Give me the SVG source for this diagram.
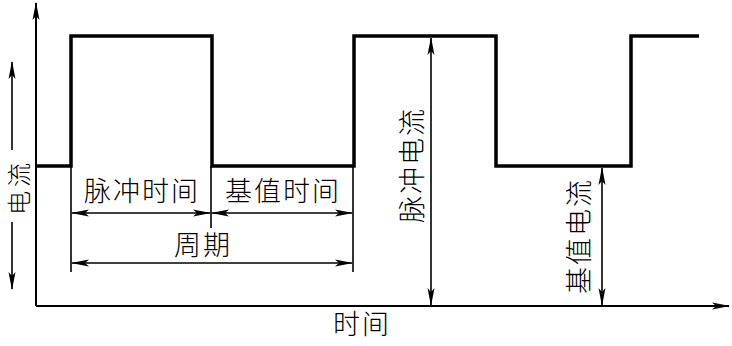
<svg xmlns="http://www.w3.org/2000/svg" width="732" height="346" viewBox="0 0 732 346">
<style>
.wave{fill:none;stroke:#000;stroke-width:3.5;stroke-linejoin:miter}
.axis{fill:none;stroke:#000;stroke-width:2}
.thin{fill:none;stroke:#000;stroke-width:1.6}
.lbl{font-family:"Noto Sans CJK SC","Noto Sans",sans-serif;font-size:27px;letter-spacing:2px;fill:#000;text-anchor:middle;font-weight:300}
.vlbl{dominant-baseline:central}
</style>
<defs>
<marker id="ah" markerUnits="userSpaceOnUse" markerWidth="18" markerHeight="10" viewBox="0 0 18 10" refX="17" refY="5" orient="auto-start-reverse">
<path d="M0,1.5 L18,5 L0,8.5 L4,5 Z" fill="#000"/>
</marker>
</defs>
<g id="axes">
<line class="axis" x1="36" y1="306" x2="36" y2="3" marker-end="url(#ah)"/>
<line class="axis" x1="36" y1="306" x2="729" y2="306" marker-end="url(#ah)"/>
</g>
<g id="waveform">
<polyline class="wave" points="36,166 71,166 71,36 212,36 212,166 354,166 354,36 496,36 496,166 631,166 631,36 699,36"/>
</g>
<g id="connectors">
<line class="thin" x1="71" y1="166" x2="71" y2="272"/>
<line class="thin" x1="211" y1="166" x2="211" y2="228"/>
<line class="thin" x1="353" y1="166" x2="353" y2="272"/>
<line class="thin" x1="72" y1="213" x2="210" y2="213" marker-start="url(#ah)" marker-end="url(#ah)"/>
<line class="thin" x1="212" y1="213" x2="352" y2="213" marker-start="url(#ah)" marker-end="url(#ah)"/>
<line class="thin" x1="72" y1="263" x2="352" y2="263" marker-start="url(#ah)" marker-end="url(#ah)"/>
<line class="thin" x1="431" y1="38" x2="431" y2="305" marker-start="url(#ah)" marker-end="url(#ah)"/>
<line class="thin" x1="602" y1="168" x2="602" y2="305" marker-start="url(#ah)" marker-end="url(#ah)"/>
<line class="thin" x1="12" y1="150" x2="12" y2="62" marker-end="url(#ah)"/>
<line class="thin" x1="12" y1="222" x2="12" y2="289" marker-end="url(#ah)"/>
</g>
<g id="label-current">
<text class="lbl vlbl" style="font-size:24px;letter-spacing:4px" transform="translate(17,187) rotate(-90)">电流</text>
</g>
<g id="label-pulse-time">
<text class="lbl" x="142" y="201">脉冲时间</text>
</g>
<g id="label-base-time">
<text class="lbl" x="283" y="201">基值时间</text>
</g>
<g id="label-period">
<text class="lbl" x="203" y="255">周期</text>
</g>
<g id="label-pulse-current">
<text class="lbl vlbl" transform="translate(410,165) rotate(-90)">脉冲电流</text>
</g>
<g id="label-base-current">
<text class="lbl vlbl" transform="translate(577,236) rotate(-90)">基值电流</text>
</g>
<g id="label-time">
<text class="lbl" x="362" y="334">时间</text>
</g>
</svg>
